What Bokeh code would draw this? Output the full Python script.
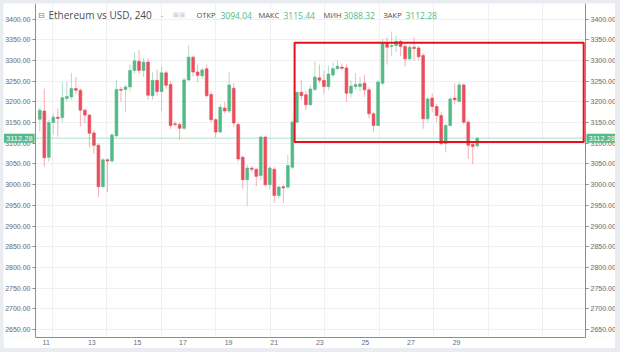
from bokeh.plotting import figure
from bokeh.models import (ColumnDataSource, Range1d, LinearAxis, FixedTicker,
                          PrintfTickFormatter, Span, BoxAnnotation, Label)
from bokeh.layouts import column
from bokeh.embed import file_html
from bokeh.resources import INLINE

# ---------------- data (4h candles, ETH/USD) ----------------
opens = [3158, 3178, 3066, 3150, 3163, 3162, 3208, 3212, 3232, 3228,
         3180, 3168, 3125, 3095, 2995, 3060, 3057, 3118, 3230, 3230,
         3236, 3276, 3298, 3276, 3296, 3215, 3252, 3225, 3270, 3242,
         3147, 3145, 3136, 3253, 3308, 3272, 3263, 3280, 3218, 3157,
         3127, 3185, 3178, 3233, 3145, 3066, 3012, 3040, 3037, 3022,
         3115, 3000, 3037, 2974, 2995, 2994, 3042, 3151, 3223, 3217,
         3193, 3230, 3258, 3252, 3237, 3265, 3280, 3284, 3282, 3221,
         3237, 3237, 3245, 3229, 3171, 3143, 3245, 3342, 3334, 3336,
         3346, 3334, 3304, 3332, 3330, 3312, 3159, 3209, 3189, 3167,
         3099, 3143, 3209, 3201, 3241, 3151, 3097, 3094.04]
highs = [3186, 3232, 3156, 3172, 3184, 3248, 3248, 3270, 3260, 3232,
         3183, 3170, 3132, 3100, 3064, 3063, 3124, 3252, 3236, 3242,
         3290, 3320, 3325, 3305, 3305, 3272, 3278, 3285, 3275, 3250,
         3152, 3150, 3258, 3336, 3312, 3290, 3282, 3290, 3225, 3160,
         3195, 3200, 3272, 3245, 3150, 3070, 3048, 3045, 3040, 3118,
         3117, 3045, 3042, 2998, 3000, 3072, 3155, 3225, 3252, 3227,
         3240, 3298, 3290, 3275, 3288, 3295, 3300, 3292, 3290, 3252,
         3270, 3260, 3265, 3235, 3175, 3252, 3352, 3356, 3370, 3360,
         3350, 3340, 3338, 3356, 3335, 3318, 3212, 3220, 3195, 3175,
         3148, 3212, 3245, 3248, 3244, 3155, 3100, 3115.44]
lows = [3128, 3044, 3055, 3120, 3116, 3150, 3200, 3205, 3218, 3140,
        3148, 3090, 3075, 2970, 2993, 2982, 3053, 3115, 3200, 3176,
        3225, 3268, 3268, 3260, 3205, 3205, 3215, 3178, 3232, 3135,
        3140, 3108, 3132, 3250, 3262, 3248, 3255, 3210, 3150, 3115,
        3125, 3172, 3172, 3140, 3055, 2990, 2948, 3030, 2996, 3010,
        2995, 2988, 2956, 2968, 2956, 2990, 3038, 3148, 3205, 3180,
        3190, 3225, 3245, 3220, 3228, 3260, 3278, 3276, 3200, 3210,
        3230, 3225, 3212, 3160, 3128, 3140, 3240, 3290, 3310, 3320,
        3310, 3285, 3300, 3300, 3300, 3135, 3150, 3175, 3150, 3095,
        3078, 3140, 3195, 3200, 3145, 3062, 3050, 3088.32]
closes = [3180, 3065, 3150, 3163, 3160, 3210, 3213, 3232, 3228, 3180,
          3168, 3124, 3095, 2995, 3060, 3057, 3120, 3230, 3228, 3236,
          3276, 3299, 3276, 3296, 3216, 3252, 3225, 3270, 3240, 3143,
          3145, 3136, 3253, 3308, 3272, 3264, 3277, 3215, 3157, 3127,
          3187, 3178, 3241, 3149, 3062, 3012, 3040, 3037, 3020, 3115,
          3000, 3040, 2974, 2994, 2992, 3046, 3151, 3223, 3215, 3193,
          3231, 3260, 3252, 3237, 3267, 3280, 3286, 3281, 3221, 3238,
          3242, 3243, 3229, 3171, 3143, 3248, 3342, 3332, 3336, 3346,
          3334, 3304, 3332, 3329, 3309, 3159, 3207, 3189, 3167, 3099,
          3143, 3207, 3205, 3241, 3151, 3095, 3092, 3112.28]
day_labels = ["11", "13", "15", "17", "19", "21", "23", "25", "27", "29"]
price_ticks = [2650, 2700, 2750, 2800, 2850, 2900, 2950, 3000, 3050, 3100,
               3150, 3200, 3250, 3300, 3350, 3400]
last_price = closes[-1]
# highlighted zone (red rectangle), in candle-index / price units
zone_left, zone_right, zone_bottom, zone_top = 56.5, 120.6, 3103, 3343

UP = "#53b987"
DOWN = "#eb4d5c"

idx = list(range(len(opens)))
body_top = [max(o, c) for o, c in zip(opens, closes)]
body_bot = [min(o, c) for o, c in zip(opens, closes)]
colors = [UP if c >= o else DOWN for o, c in zip(opens, closes)]
src = ColumnDataSource(dict(x=idx, o=opens, h=highs, l=lows, c=closes,
                            top=body_top, bot=body_bot, color=colors))

# price-pane geometry (page pixels) and its data extent
PL, PR, FT, FB = 35, 585, 3, 337          # price pane between the two y axes
X_AT_PL, X_AT_PR = -0.953, 121.0           # candle index at pane edges
YS, YE = 2630.7, 3437.6
CL, CR = 3, 615                            # whole white panel


def sx(px):
    return X_AT_PL + (px - PL) / (PR - PL) * (X_AT_PR - X_AT_PL)


def sy(py):
    return YE - (py - FT) / (FB - FT) * (YE - YS)


p = figure(frame_width=CR - CL, frame_height=FB - FT,
           x_range=Range1d(sx(CL), sx(CR)), y_range=Range1d(YS, YE),
           output_backend="svg", toolbar_location=None,
           min_border_left=0, min_border_right=0, min_border_top=0,
           min_border_bottom=11, border_fill_color="white",
           background_fill_color="white", outline_line_color=None,
           margin=(3, 5, 4, 3))

# grid
p.ygrid.ticker = FixedTicker(ticks=price_ticks)
p.ygrid.grid_line_color = "#eef0f3"
p.ygrid.bounds = (sx(PL), sx(PR))
p.xgrid.ticker = FixedTicker(ticks=[2.75 + 12.08 * k for k in range(10)])
p.xgrid.grid_line_color = "#eef0f3"

# axes
day_pos = [1.42 + 10.11 * k for k in range(len(day_labels))]
xa = p.xaxis[0]
xa.ticker = FixedTicker(ticks=day_pos)
xa.major_label_overrides = {pos: lab for pos, lab in zip(day_pos, day_labels)}
xa.bounds = (sx(PL), sx(PR))
xa.minor_tick_line_color = None
xa.major_tick_out = 0
xa.major_tick_in = 0
xa.major_label_standoff = 2
xa.axis_line_color = "#8a8d93"
xa.major_label_text_font = "Liberation Sans"
xa.major_label_text_font_size = "7px"
xa.major_label_text_color = "#6a6d73"

ya = p.yaxis[0]
ya.fixed_location = sx(PL)
ra = LinearAxis(fixed_location=sx(PR))
p.add_layout(ra, "right")
for ax in (ya, ra):
    ax.ticker = FixedTicker(ticks=price_ticks)
    ax.formatter = PrintfTickFormatter(format="%.2f")
    ax.minor_tick_line_color = None
    ax.major_tick_out = 3
    ax.major_tick_in = 0
    ax.major_tick_line_color = "#8a8d93"
    ax.major_label_standoff = 2
    ax.axis_line_color = "#8a8d93"
    ax.major_label_text_font = "Liberation Sans"
    ax.major_label_text_font_size = "7px"
    ax.major_label_text_color = "#6a6d73"

# last price line
p.add_layout(Span(location=last_price, dimension="width", line_color=UP,
                  line_alpha=0.45, line_width=1))

# candles
p.segment(x0="x", y0="h", x1="x", y1="l", source=src, line_color="color",
          line_alpha=0.45, line_width=1)
p.vbar(x="x", top="top", bottom="bot", width=0.62, source=src,
       fill_color="color", line_color="color", line_width=0.6)

# highlighted zone
p.add_layout(BoxAnnotation(left=zone_left, right=zone_right, bottom=zone_bottom,
                           top=zone_top, fill_alpha=0, line_color="#e5121b",
                           line_width=2, line_alpha=1))

# header legend
hy = sy(14.5)


def lab(px, text, color, size, font="Open Sans", style="normal"):
    p.add_layout(Label(x=sx(px), y=hy, text=text, text_color=color,
                       text_font=font, text_font_size=size, text_font_style=style,
                       text_baseline="middle", text_align="left"))


lab(37.5, "⊟", "#7a7d83", "8px", font="DejaVu Sans")
lab(48, "Ethereum vs USD, 240", "#4a4d53", "10px")
lab(160, "-", "#b0b3b8", "9px")
lab(172, "▣▣", "#d6d8dc", "7px", font="DejaVu Sans")
lab(196, "ОТКР", "#4a4d53", "7.5px")
lab(220, "3094.04", UP, "8.5px")
lab(258, "МАКС", "#4a4d53", "7.5px")
lab(283, "3115.44", UP, "8.5px")
lab(323, "МИН", "#4a4d53", "7.5px")
lab(343, "3088.32", UP, "8.5px")
lab(383, "ЗАКР", "#4a4d53", "7.5px")
lab(405, "3112.28", UP, "8.5px")

# last-price tags on both price scales
for px in (3.5, 586):
    p.add_layout(Label(x=sx(px), y=last_price, text="%.2f" % last_price,
                       text_color="white", text_font="Liberation Sans",
                       text_font_size="7.5px", text_baseline="middle",
                       text_align="left", background_fill_color=UP,
                       padding=2))

layout = column(p, width=620, height=352,
                styles={"background-color": "#e9ecf0"})

open("out.html", "w").write(file_html(layout, INLINE))
